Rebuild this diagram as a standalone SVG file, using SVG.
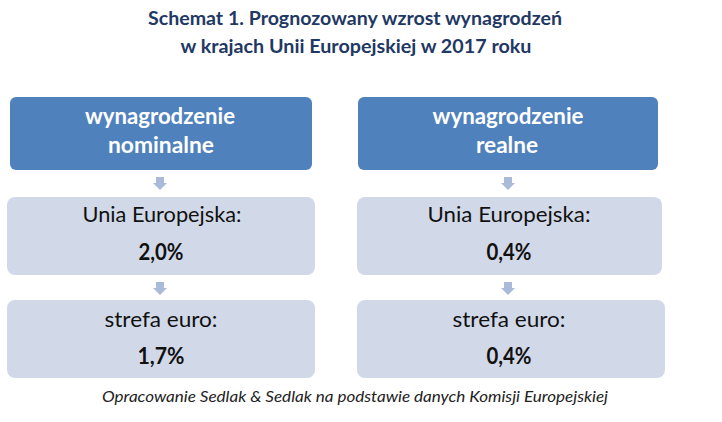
<svg xmlns="http://www.w3.org/2000/svg" width="722" height="422" viewBox="0 0 722 422">
<style>
.title{font-family:Lato,"Liberation Sans",sans-serif;font-weight:bold;font-size:18px;fill:#1F3864;text-anchor:middle}
.hdr{fill:#4F81BD}
.lt{fill:#D1D9E8}
.ht{font-family:Lato,"Liberation Sans",sans-serif;font-weight:bold;font-size:22px;fill:#FFFFFF;text-anchor:middle}
.bt{font-family:Lato,"Liberation Sans",sans-serif;font-size:22px;fill:#111111;text-anchor:middle}
.bv{font-family:Lato,"Liberation Sans",sans-serif;font-weight:bold;font-size:22px;fill:#111111;text-anchor:middle}
.cap{font-family:Lato,"Liberation Sans",sans-serif;font-style:italic;font-size:16px;fill:#222222;text-anchor:middle}
.arr{fill:#A9BBD9}
</style>
<rect width="722" height="422" fill="#FFFFFF"/>
<g id="title">
<text class="title" x="355" y="25" textLength="414" lengthAdjust="spacingAndGlyphs">Schemat 1. Prognozowany wzrost wynagrodzeń</text>
<text class="title" x="356" y="53" textLength="351" lengthAdjust="spacingAndGlyphs">w krajach Unii Europejskiej w 2017 roku</text>
</g>
<g id="connectors">
<path class="arr" d="M156,177 h8 v6 h3 l-7,7 l-7,-7 h3 z"/>
<path class="arr" d="M156,282 h8 v6 h3 l-7,7 l-7,-7 h3 z"/>
<path class="arr" d="M504,177 h8 v6 h3 l-7,7 l-7,-7 h3 z"/>
<path class="arr" d="M504,282 h8 v6 h3 l-7,7 l-7,-7 h3 z"/>
</g>
<g id="node-nominal-header">
<rect class="hdr" x="10" y="97" width="302" height="73" rx="6"/>
<text class="ht" x="160" y="124" textLength="150" lengthAdjust="spacingAndGlyphs">wynagrodzenie</text>
<text class="ht" x="161" y="153" textLength="106" lengthAdjust="spacingAndGlyphs">nominalne</text>
</g>
<g id="node-nominal-ue">
<rect class="lt" x="7" y="197" width="308" height="78" rx="8"/>
<text class="bt" x="162" y="222" textLength="159" lengthAdjust="spacingAndGlyphs">Unia Europejska:</text>
<text class="bv" x="161" y="260" textLength="45" lengthAdjust="spacingAndGlyphs">2,0%</text>
</g>
<g id="node-nominal-euro">
<rect class="lt" x="7" y="300" width="308" height="78" rx="8"/>
<text class="bt" x="161" y="327" textLength="113" lengthAdjust="spacingAndGlyphs">strefa euro:</text>
<text class="bv" x="161" y="364" textLength="47" lengthAdjust="spacingAndGlyphs">1,7%</text>
</g>
<g id="node-real-header">
<rect class="hdr" x="358" y="97" width="300" height="73" rx="6"/>
<text class="ht" x="508" y="124" textLength="151" lengthAdjust="spacingAndGlyphs">wynagrodzenie</text>
<text class="ht" x="507" y="153" textLength="62" lengthAdjust="spacingAndGlyphs">realne</text>
</g>
<g id="node-real-ue">
<rect class="lt" x="357" y="197" width="305" height="78" rx="8"/>
<text class="bt" x="509" y="222" textLength="163" lengthAdjust="spacingAndGlyphs">Unia Europejska:</text>
<text class="bv" x="509" y="260" textLength="45" lengthAdjust="spacingAndGlyphs">0,4%</text>
</g>
<g id="node-real-euro">
<rect class="lt" x="357" y="300" width="308" height="78" rx="8"/>
<text class="bt" x="509" y="327" textLength="113" lengthAdjust="spacingAndGlyphs">strefa euro:</text>
<text class="bv" x="509" y="364" textLength="45" lengthAdjust="spacingAndGlyphs">0,4%</text>
</g>
<g id="caption">
<text class="cap" x="355" y="402" textLength="506" lengthAdjust="spacingAndGlyphs">Opracowanie Sedlak &amp; Sedlak na podstawie danych Komisji Europejskiej</text>
</g>
</svg>
